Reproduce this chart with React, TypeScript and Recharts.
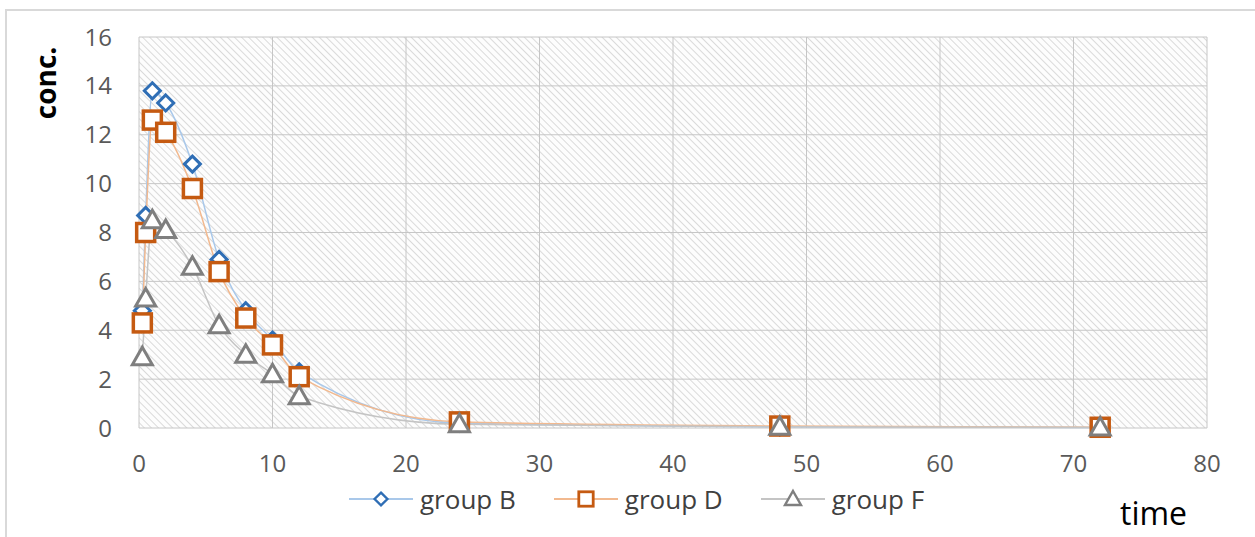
import { LineChart, Line, XAxis, YAxis, CartesianGrid } from 'recharts';

// sampling times (h)
const times = [0.25, 0.5, 1, 2, 4, 6, 8, 10, 12, 24, 48, 72];
const groupB = [4.8, 8.7, 13.8, 13.3, 10.8, 6.9, 4.8, 3.6, 2.3, 0.2, 0.05, 0.02];
const groupD = [4.3, 8.0, 12.6, 12.1, 9.8, 6.4, 4.5, 3.4, 2.1, 0.25, 0.08, 0.03];
const groupF = [2.9, 5.3, 8.5, 8.1, 6.6, 4.2, 3.0, 2.2, 1.3, 0.15, 0.05, 0.02];

const xTicks = [0, 10, 20, 30, 40, 50, 60, 70, 80];
const yTicks = [0, 2, 4, 6, 8, 10, 12, 14, 16];

const data = times.map((t, i) => ({ time: t, B: groupB[i], D: groupD[i], F: groupF[i] }));

const FONT = '"Open Sans", "Liberation Sans", sans-serif';

const BLUE = '#2f6eb5';
const ORANGE = '#c55a11';
const GRAY = '#7f7f7f';

function Diamond({ cx, cy, color }: { cx: number; cy: number; color: string }) {
  const r = 8;
  return (
    <path
      d={`M${cx},${cy - r} L${cx + r},${cy} L${cx},${cy + r} L${cx - r},${cy} Z`}
      fill="#fff"
      stroke={color}
      strokeWidth={3}
    />
  );
}

function Square({ cx, cy, color }: { cx: number; cy: number; color: string }) {
  const r = 9;
  return <rect x={cx - r} y={cy - r} width={r * 2} height={r * 2} fill="#fff" stroke={color} strokeWidth={3.5} />;
}

function Triangle({ cx, cy, color }: { cx: number; cy: number; color: string }) {
  const r = 10;
  return (
    <path
      d={`M${cx},${cy - r} L${cx + r},${cy + r * 0.75} L${cx - r},${cy + r * 0.75} Z`}
      fill="#fff"
      stroke={color}
      strokeWidth={3}
    />
  );
}

const series = [
  { key: 'B', name: 'group B', line: '#a9c8ea', color: BLUE, Mark: Diamond },
  { key: 'D', name: 'group D', line: '#f2b98f', color: ORANGE, Mark: Square },
  { key: 'F', name: 'group F', line: '#c4c4c4', color: GRAY, Mark: Triangle },
];

function LegendItem({ name, line, color, Mark }: (typeof series)[number]) {
  return (
    <div style={{ display: 'flex', alignItems: 'center', marginRight: 38 }}>
      <svg width={64} height={24}>
        <line x1={0} y1={12} x2={64} y2={12} stroke={line} strokeWidth={2} />
        <g transform="translate(32,12) scale(0.8) translate(-32,-12)">
          <Mark cx={32} cy={12} color={color} />
        </g>
      </svg>
      <span style={{ marginLeft: 7 }}>{name}</span>
    </div>
  );
}

export default function App() {
  return (
    <div
      style={{
        position: 'absolute',
        left: 0,
        top: 0,
        width: 1255,
        height: 537,
        background: '#fff',
        fontFamily: FONT,
        overflow: 'hidden',
      }}
    >
      <svg width={0} height={0} style={{ position: 'absolute' }}>
        <defs>
          <pattern id="hatch" patternUnits="userSpaceOnUse" width={5} height={5} patternTransform="rotate(45)">
            <rect width={5} height={5} fill="#fdfdfd" />
            <line x1={0} y1={0} x2={5} y2={0} stroke="#dadada" strokeWidth={2} />
          </pattern>
        </defs>
      </svg>
      <div
        style={{
          position: 'absolute',
          left: 5,
          top: 9,
          width: 1300,
          height: 600,
          borderLeft: '2px solid #d9d9d9',
          borderTop: '2px solid #d9d9d9',
        }}
      />
      <LineChart
        width={1255}
        height={537}
        data={data}
        margin={{ top: 37, right: 48, left: 0, bottom: 79 }}
        style={{ position: 'absolute', left: 0, top: 0 }}
      >
        <CartesianGrid
          stroke="#c6c6c6"
          strokeWidth={1}
          fill="url(#hatch)"
          fillOpacity={1}
          horizontalValues={yTicks}
          verticalValues={xTicks}
        />
        <XAxis
          type="number"
          dataKey="time"
          domain={[0, 80]}
          ticks={xTicks}
          axisLine={false}
          tickLine={false}
          tickSize={0}
          tickMargin={27}
          height={30}
          tick={{ fontSize: 24, fill: '#595959', fontFamily: FONT }}
        />
        <YAxis
          type="number"
          domain={[0, 16]}
          ticks={yTicks}
          axisLine={false}
          tickLine={false}
          tickSize={0}
          tickMargin={27}
          width={139}
          tick={{ fontSize: 24, fill: '#595959', fontFamily: FONT }}
        />
        {series.map((s) => (
          <Line
            key={s.key}
            type="monotone"
            dataKey={s.key}
            name={s.name}
            stroke={s.line}
            strokeWidth={1.5}
            isAnimationActive={false}
            dot={(p: any) => <s.Mark key={`${s.key}-${p.index}`} cx={p.cx} cy={p.cy} color={s.color} />}
            activeDot={false}
          />
        ))}
      </LineChart>
      <div
        style={{
          position: 'absolute',
          left: 45,
          top: 83,
          transform: 'translate(-50%, -50%) rotate(-90deg)',
          fontSize: 28,
          fontWeight: 700,
          color: '#000',
          whiteSpace: 'nowrap',
          lineHeight: 1,
        }}
      >
        conc.
      </div>
      <div
        style={{
          position: 'absolute',
          left: 349,
          top: 481,
          display: 'flex',
          fontSize: 26,
          color: '#404040',
        }}
      >
        {series.map((s) => (
          <LegendItem key={s.key} {...s} />
        ))}
      </div>
      <div style={{ position: 'absolute', left: 1120, top: 494, fontSize: 32, color: '#000', lineHeight: 1.2 }}>
        time
      </div>
    </div>
  );
}
